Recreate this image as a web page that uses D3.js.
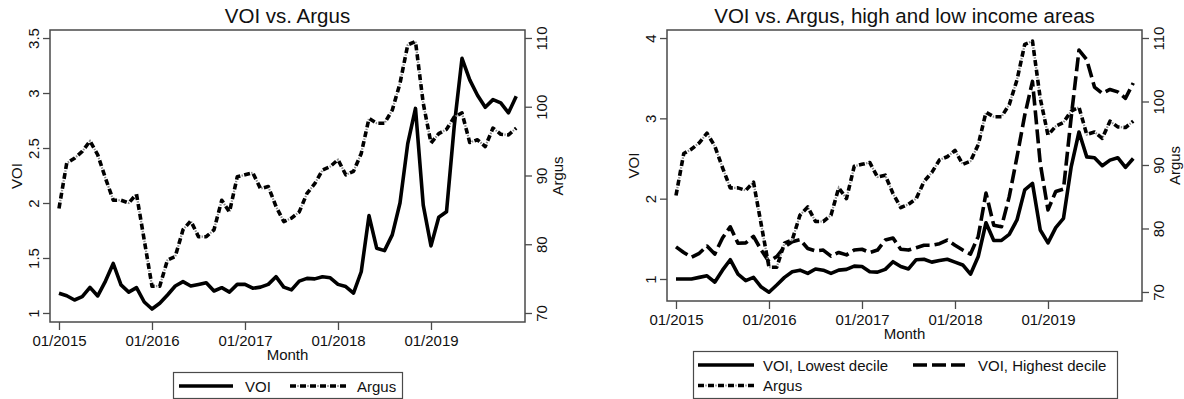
<!DOCTYPE html>
<html>
<head>
<meta charset="utf-8">
<script src="https://cdn.jsdelivr.net/npm/d3@7"></script>
<style>
  html, body { margin: 0; padding: 0; background: #fff; }
  svg { display: block; }
  text { font-family: "Liberation Sans", Arial, sans-serif; fill: #111; }
</style>
</head>
<body>
<svg id="chart" width="1184" height="399"></svg>
<script>
// ---------------- DATA ----------------
const months = [
  "2015-01","2015-02","2015-03","2015-04","2015-05","2015-06","2015-07","2015-08","2015-09","2015-10","2015-11","2015-12",
  "2016-01","2016-02","2016-03","2016-04","2016-05","2016-06","2016-07","2016-08","2016-09","2016-10","2016-11","2016-12",
  "2017-01","2017-02","2017-03","2017-04","2017-05","2017-06","2017-07","2017-08","2017-09","2017-10","2017-11","2017-12",
  "2018-01","2018-02","2018-03","2018-04","2018-05","2018-06","2018-07","2018-08","2018-09","2018-10","2018-11","2018-12",
  "2019-01","2019-02","2019-03","2019-04","2019-05","2019-06","2019-07","2019-08","2019-09","2019-10","2019-11","2019-12"
];
const xTickMonths = ["2015-01","2016-01","2017-01","2018-01","2019-01"];
const xTickLabels = ["01/2015","01/2016","01/2017","01/2018","01/2019"];

const voi = [1.18,1.157,1.118,1.148,1.233,1.155,1.29,1.45,1.255,1.19,1.23,1.10,
             1.036,1.088,1.164,1.245,1.285,1.245,1.26,1.275,1.20,1.23,1.19,1.26,
             1.26,1.225,1.235,1.26,1.33,1.235,1.21,1.29,1.315,1.31,1.33,1.32,
             1.26,1.24,1.18,1.375,1.885,1.588,1.567,1.71,2.0,2.54,2.86,1.98,
             1.61,1.87,1.92,2.70,3.315,3.12,2.98,2.87,2.94,2.91,2.82,2.97];

const argus = [85.2,91.8,92.5,93.5,95.0,93.0,89.6,86.4,86.4,86.0,87.3,80.6,
               73.9,73.9,77.7,78.2,82.1,83.4,81.1,81.1,82.1,86.4,84.7,89.8,
               90.1,90.4,88.1,88.4,85.5,83.3,83.8,84.7,87.4,88.8,90.8,91.3,
               92.3,90.1,90.6,93.2,98.3,97.6,97.6,99.5,103.4,109.0,109.5,100.5,
               94.7,96.1,96.7,98.5,99.1,94.8,95.2,94.2,96.9,96.0,95.9,96.9];

const voiLow = [1.0,1.0,1.0,1.02,1.04,0.96,1.11,1.24,1.06,0.98,1.02,0.90,
                0.835,0.925,1.02,1.09,1.11,1.07,1.125,1.11,1.07,1.11,1.12,1.16,
                1.155,1.09,1.085,1.12,1.215,1.155,1.125,1.24,1.245,1.21,1.23,1.245,
                1.21,1.175,1.06,1.28,1.70,1.48,1.48,1.555,1.735,2.11,2.19,1.61,
                1.45,1.64,1.755,2.40,2.83,2.52,2.51,2.41,2.48,2.51,2.39,2.50];

const voiHigh = [1.40,1.33,1.27,1.32,1.41,1.31,1.51,1.65,1.445,1.45,1.53,1.36,
                 1.215,1.28,1.40,1.465,1.49,1.38,1.35,1.36,1.285,1.33,1.30,1.36,
                 1.37,1.33,1.36,1.485,1.51,1.37,1.36,1.39,1.42,1.42,1.44,1.485,
                 1.42,1.36,1.31,1.53,2.07,1.67,1.65,2.025,2.52,3.04,3.46,2.44,
                 1.86,2.09,2.12,3.02,3.85,3.73,3.39,3.31,3.36,3.33,3.25,3.44];

const leftVoiTicks = [1, 1.5, 2, 2.5, 3, 3.5];
const rightVoiTicks = [1, 2, 3, 4];
const argusTicks = [70, 80, 90, 100, 110];

// ---------------- DRAWING ----------------
const svg = d3.select("#chart");
const AXIS = "#4a4a4a";
const FONT = 15;

const styles = {
  solid:   { dash: null, width: 3.6 },
  longdash:{ dash: "14 5", width: 3.6 },
  dashdot: { dash: "6 4", width: 3.6, dot: "0 7.3 1.4 1.3" }
};

function drawStyled(g, pathD, st) {
  if (st.dot) {
    g.append("path").attr("d", pathD).attr("fill", "none")
      .attr("stroke", "#8c8c8c").attr("stroke-width", 2.2)
      .attr("stroke-dasharray", st.dot);
  }
  g.append("path").attr("d", pathD).attr("fill", "none")
    .attr("stroke", "#000").attr("stroke-width", st.width)
    .attr("stroke-linejoin", "round")
    .attr("stroke-dasharray", st.dash);
}

function panel(opts) {
  const { left, right, top, bottom, title, voiDomain, voiTicks, argDomain, series } = opts;
  const g = svg.append("g");
  const x = d3.scaleLinear().domain([-1.16, 60.13]).range([left, right]);
  const yL = d3.scaleLinear().domain(voiDomain).range([bottom, top]);
  const yR = d3.scaleLinear().domain(argDomain).range([bottom, top]);

  g.append("rect").attr("x", left).attr("y", top)
    .attr("width", right - left).attr("height", bottom - top)
    .attr("fill", "none").attr("stroke", AXIS).attr("stroke-width", 1.5);

  const ax = g.append("g").attr("transform", `translate(${left},0)`)
    .call(d3.axisLeft(yL).tickValues(voiTicks).tickSize(7).tickFormat(d3.format("")));
  ax.select(".domain").remove();
  ax.selectAll(".tick line").attr("stroke", AXIS).attr("stroke-width", 1.3);
  ax.selectAll(".tick text").attr("x", null).attr("dy", null)
    .attr("text-anchor", "middle").attr("transform", "translate(-11,0) rotate(-90)")
    .style("font-size", FONT + "px").style("font-family", '"Liberation Sans", Arial, sans-serif').attr("fill", "#111");

  const ar = g.append("g").attr("transform", `translate(${right},0)`)
    .call(d3.axisRight(yR).tickValues(argusTicks).tickSize(7).tickFormat(d3.format("")));
  ar.select(".domain").remove();
  ar.selectAll(".tick line").attr("stroke", AXIS).attr("stroke-width", 1.3);
  ar.selectAll(".tick text").attr("x", null).attr("dy", null)
    .attr("text-anchor", "middle").attr("transform", "translate(22,0) rotate(-90)")
    .style("font-size", FONT + "px").style("font-family", '"Liberation Sans", Arial, sans-serif').attr("fill", "#111");

  const ab = g.append("g").attr("transform", `translate(0,${bottom})`)
    .call(d3.axisBottom(x).tickValues(xTickMonths.map(m => months.indexOf(m)))
      .tickSize(8).tickFormat((d, i) => xTickLabels[i]));
  ab.select(".domain").remove();
  ab.selectAll(".tick line").attr("stroke", AXIS).attr("stroke-width", 1.3);
  ab.selectAll(".tick text").attr("y", 24).attr("dy", null)
    .style("font-size", FONT + "px").style("font-family", '"Liberation Sans", Arial, sans-serif').attr("fill", "#111");

  const cx = (left + right) / 2, cy = (top + bottom) / 2;
  g.append("text").attr("x", cx).attr("y", bottom + 38).attr("text-anchor", "middle")
    .style("font-size", FONT + "px").text("Month");
  g.append("text").attr("text-anchor", "middle")
    .attr("transform", `translate(${left - 28},${cy}) rotate(-90)`)
    .style("font-size", FONT + "px").text("VOI");
  g.append("text").attr("text-anchor", "middle")
    .attr("transform", `translate(${right + 38},${cy}) rotate(-90)`)
    .style("font-size", FONT + "px").text("Argus");
  g.append("text").attr("x", cx).attr("y", 23).attr("text-anchor", "middle")
    .style("font-size", "20.5px").text(title);

  series.forEach(s => {
    const yy = s.axis === "right" ? yR : yL;
    const line = d3.line().x((d, i) => x(i)).y(d => yy(d));
    drawStyled(g, line(s.values), styles[s.style]);
  });
}

panel({
  left: 50, right: 525, top: 30, bottom: 322,
  title: "VOI vs. Argus",
  voiDomain: [0.918, 3.573], voiTicks: leftVoiTicks,
  argDomain: [68.69, 111.16],
  series: [
    { values: voi, style: "solid", axis: "left" },
    { values: argus, style: "dashdot", axis: "right" }
  ]
});

panel({
  left: 667, right: 1142, top: 30, bottom: 301,
  title: "VOI vs. Argus, high and low income areas",
  voiDomain: [0.726, 4.10], voiTicks: rightVoiTicks,
  argDomain: [68.58, 111.26],
  series: [
    { values: voiLow, style: "solid", axis: "left" },
    { values: voiHigh, style: "longdash", axis: "left" },
    { values: argus, style: "dashdot", axis: "right" }
  ]
});

// ---------------- LEGENDS ----------------
function legend(box, items) {
  const g = svg.append("g");
  g.append("rect").attr("x", box.x).attr("y", box.y).attr("width", box.w).attr("height", box.h)
    .attr("fill", "#fff").attr("stroke", AXIS).attr("stroke-width", 1.2);
  items.forEach(it => {
    drawStyled(g, `M${it.x1},${it.y}L${it.x2},${it.y}`, styles[it.style]);
    g.append("text").attr("x", it.tx).attr("y", it.y + 5.5)
      .style("font-size", FONT + "px").text(it.label);
  });
}

legend({ x: 173.5, y: 372.5, w: 229, h: 26 }, [
  { label: "VOI", style: "solid", x1: 179, x2: 233, tx: 245, y: 386 },
  { label: "Argus", style: "dashdot", x1: 290, x2: 347, tx: 357, y: 386 }
]);

legend({ x: 693.5, y: 351.5, w: 424, h: 47 }, [
  { label: "VOI, Lowest decile", style: "solid", x1: 698, x2: 754, tx: 763, y: 365 },
  { label: "VOI, Highest decile", style: "longdash", x1: 913, x2: 968, tx: 978, y: 365 },
  { label: "Argus", style: "dashdot", x1: 698, x2: 754, tx: 763, y: 385.5 }
]);
</script>
</body>
</html>
